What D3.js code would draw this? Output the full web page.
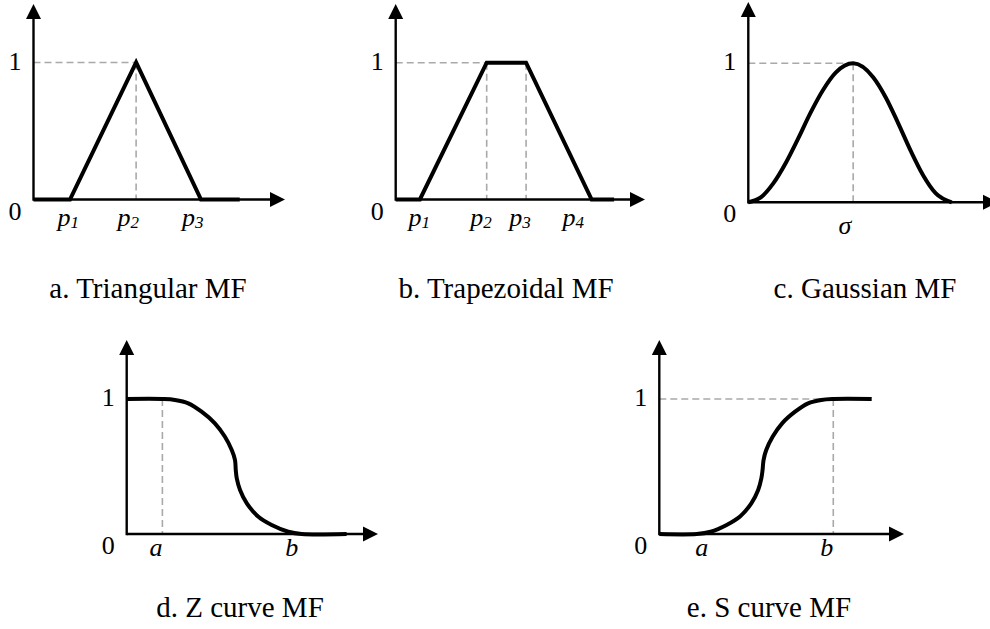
<!DOCTYPE html>
<html>
<head>
<meta charset="utf-8">
<script src="https://cdn.jsdelivr.net/npm/d3@7"></script>
<style>
  body { margin: 0; background: #fff; }
  svg { display: block; }
</style>
</head>
<body>
<svg id="chart" width="990" height="629"></svg>
<script>
// ---- membership function values (x in axis units 0..10, y = membership degree) ----
// a. Triangular
const triX = [0, 1.45, 4.08, 6.66, 8.2];
const triY = [0, 0, 1, 0, 0];
const triTickX = [1.38, 3.77, 6.33];
const triTickLabels = ["p1", "p2", "p3"];
const triGuideV = [4.08];
const triGuideH = 4.08;

// b. Trapezoidal
const trapX = [0, 0.97, 3.65, 5.23, 7.86, 8.76];
const trapY = [0, 0, 1, 1, 0, 0];
const trapTickX = [0.94, 3.42, 4.99, 7.12];
const trapTickLabels = ["p1", "p2", "p3", "p4"];
const trapGuideV = [3.65, 5.23];
const trapGuideH = 3.65;

// c. Gaussian
const gaussX = [0, 0.5, 1, 1.5, 2, 2.5, 3, 3.5, 4.2, 5, 5.5, 6, 6.5, 7, 7.5, 8.15];
const gaussY = [0, 0.035, 0.136, 0.283, 0.46, 0.647, 0.81, 0.933, 1, 0.9, 0.756, 0.57, 0.372, 0.195, 0.066, 0];
const gaussTickX = [3.87];
const gaussTickLabels = ["σ"];
const gaussGuideV = [4.2];
const gaussGuideH = 4.2;

// d. Z curve
const zX = [0, 1.42, 1.92, 2.45, 2.98, 3.51, 3.91, 4.18, 4.31, 4.34, 4.38, 4.51, 4.78, 5.24, 5.77, 6.43, 6.96, 8.75];
const zY = [1, 1, 0.993, 0.968, 0.906, 0.82, 0.72, 0.622, 0.548, 0.474, 0.412, 0.326, 0.227, 0.128, 0.067, 0.017, 0, 0];
const zTickX = [1.17, 6.57];
const zTickLabels = ["a", "b"];
const zGuideV = [1.42];
const zGuideH = null;

// e. S curve
const sX = [0, 1.53, 2.1, 2.75, 3.3, 3.76, 4.04, 4.17, 4.22, 4.26, 4.37, 4.63, 5.02, 5.55, 6.08, 6.62, 7.11, 8.68];
const sY = [0, 0, 0.017, 0.067, 0.13, 0.227, 0.326, 0.412, 0.474, 0.548, 0.622, 0.72, 0.82, 0.906, 0.968, 0.993, 1, 1];
const sTickX = [1.73, 6.84];
const sTickLabels = ["a", "b"];
const sGuideV = [7.11];
const sGuideH = 7.11;

const captions = ["a. Triangular MF", "b. Trapezoidal MF", "c. Gaussian MF", "d. Z curve MF", "e. S curve MF"];

const SERIF = "'Liberation Serif', Tinos, 'Times New Roman', 'Noto Serif', 'DejaVu Serif', serif";
const smooth = d3.curveCatmullRom.alpha(0.5);

// ---- panel frames (pixel layout) ----
const panels = [
  { ox: 33.5,  oy: 199.5, y1: 62.5, xTip: 285, yTip: 4,   capX: 148, capY: 298, tickDy: 26,
    xs: triX, ys: triY, tx: triTickX, tl: triTickLabels, gv: triGuideV, gh: triGuideH, curve: d3.curveLinear, cap: captions[0] },
  { ox: 395.7, oy: 199.5, y1: 62.7, xTip: 645, yTip: 4,   capX: 506, capY: 298, tickDy: 26,
    xs: trapX, ys: trapY, tx: trapTickX, tl: trapTickLabels, gv: trapGuideV, gh: trapGuideH, curve: d3.curveLinear, cap: captions[1] },
  { ox: 748.3, oy: 202.3, y1: 63.3, xTip: 998, yTip: 2,   capX: 865, capY: 298, tickDy: 32,
    xs: gaussX, ys: gaussY, tx: gaussTickX, tl: gaussTickLabels, gv: gaussGuideV, gh: gaussGuideH, curve: d3.curveMonotoneX, cap: captions[2] },
  { ox: 126.7, oy: 534,   y1: 399,  xTip: 378, yTip: 340, capX: 240, capY: 617, tickDy: 22,
    xs: zX, ys: zY, tx: zTickX, tl: zTickLabels, gv: zGuideV, gh: zGuideH, curve: smooth, cap: captions[3] },
  { ox: 659.3, oy: 534,   y1: 399,  xTip: 904, yTip: 340, capX: 769, capY: 617, tickDy: 22,
    xs: sX, ys: sY, tx: sTickX, tl: sTickLabels, gv: sGuideV, gh: sGuideH, curve: smooth, cap: captions[4] }
];

const svg = d3.select("#chart").attr("font-family", SERIF);
const AH = 15;   // arrowhead length
const AW = 7.5;  // arrowhead half width

panels.forEach(p => {
  const g = svg.append("g");
  const x = d3.scaleLinear().domain([0, 10]).range([p.ox, p.xTip]);
  const y = d3.scaleLinear().domain([0, 1]).range([p.oy, p.y1]);

  // dashed guide lines
  const dash = g.append("g").attr("stroke", "#a9a9a9").attr("stroke-width", 1.6)
    .attr("stroke-dasharray", "7,4").attr("fill", "none");
  if (p.gh !== null) {
    dash.append("line").attr("x1", x(0)).attr("x2", x(p.gh)).attr("y1", y(1)).attr("y2", y(1));
  }
  p.gv.forEach(v => {
    dash.append("line").attr("x1", x(v)).attr("x2", x(v)).attr("y1", y(1)).attr("y2", y(0));
  });

  // axes with arrowheads
  g.append("line").attr("x1", x(0)).attr("y1", y(0)).attr("x2", p.xTip - AH + 1).attr("y2", y(0))
    .attr("stroke", "#000").attr("stroke-width", 2.4);
  g.append("line").attr("x1", x(0)).attr("y1", y(0) + 1.2).attr("x2", x(0)).attr("y2", p.yTip + AH - 1)
    .attr("stroke", "#000").attr("stroke-width", 2.4);
  g.append("path")
    .attr("d", `M${p.xTip},${y(0)} L${p.xTip - AH},${y(0) - AW} L${p.xTip - AH},${y(0) + AW} Z`)
    .attr("fill", "#000");
  g.append("path")
    .attr("d", `M${x(0)},${p.yTip} L${x(0) - AW},${p.yTip + AH} L${x(0) + AW},${p.yTip + AH} Z`)
    .attr("fill", "#000");

  // axis value labels 0 and 1
  g.append("text").attr("x", x(0) - 12).attr("y", y(1) + 7).attr("text-anchor", "end")
    .attr("font-family", SERIF).attr("font-size", 26).text("1");
  g.append("text").attr("x", x(0) - 12).attr("y", y(0) + 20).attr("text-anchor", "end")
    .attr("font-family", SERIF).attr("font-size", 26).text("0");

  // membership curve
  const pts = p.xs.map((v, i) => [v, p.ys[i]]);
  g.append("path").datum(pts)
    .attr("d", d3.line().x(d => x(d[0])).y(d => y(d[1])).curve(p.curve))
    .attr("fill", "none").attr("stroke", "#000").attr("stroke-width", 4)
    .attr("stroke-linejoin", "miter").attr("stroke-linecap", "butt");

  // parameter labels on the x axis
  p.tl.forEach((lab, i) => {
    const t = g.append("text").attr("x", x(p.tx[i])).attr("y", y(0) + p.tickDy)
      .attr("text-anchor", "middle").attr("font-style", "italic")
      .attr("font-family", SERIF).attr("font-size", 26);
    t.append("tspan").text(lab[0]);
    if (lab.length > 1) {
      t.append("tspan").attr("font-size", 17).attr("dy", 2).text(lab.slice(1));
    }
  });

  // caption
  svg.append("text").attr("x", p.capX).attr("y", p.capY).attr("text-anchor", "middle")
    .attr("font-family", SERIF).attr("font-size", 29).text(p.cap);
});
</script>
</body>
</html>
